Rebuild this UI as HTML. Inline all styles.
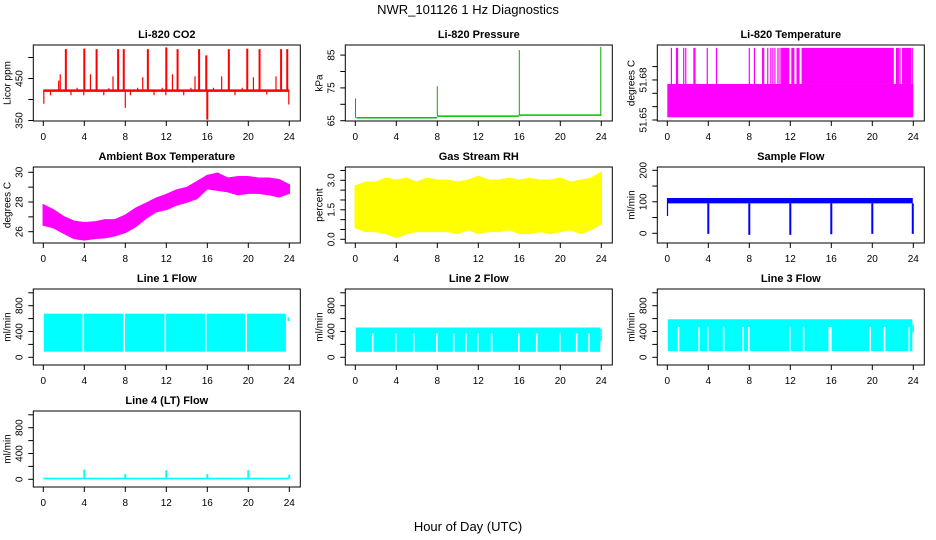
<!DOCTYPE html>
<html><head><meta charset="utf-8"><style>
html,body{margin:0;padding:0;background:#fff;}
svg{display:block;font-family:"Liberation Sans",sans-serif;}
</style></head><body>
<svg id="chart" width="936" height="540" viewBox="0 0 936 540">
<text x="468" y="14" font-size="13" text-anchor="middle">NWR_101126  1 Hz Diagnostics</text>
<text x="468" y="531" font-size="13" text-anchor="middle">Hour of Day (UTC)</text>
</svg>
<script>
// ---- data ----
const xTicks=[0,4,8,12,16,20,24];
const co2Base=421;
const co2SpikeHours=[0.05,0.7,1.5,1.65,2.2,2.7,3.3,3.95,4.0,4.6,5.2,5.9,6.4,6.8,7.3,7.85,8.0,8.5,9.2,9.7,10.2,10.8,11.6,11.95,12.0,12.6,13.1,13.7,14.4,14.8,15.2,15.9,16.0,16.6,17.4,18.1,18.7,19.4,19.9,20.5,21.1,21.8,22.7,23.2,23.8,23.95];
const co2SpikeValues=[390,410,445,460,520,410,428,410,521,460,520,410,427,455,520,520,380,410,428,453,520,410,428,410,524,460,520,410,428,455,520,505,352,428,455,520,410,428,521,453,520,412,455,520,520,388];
const presSegStart=[0.1,8,16];
const presSegEnd=[8,16,24];
const presSegLevel=[65.9,66.4,66.7];
const presSpikeHours=[0.02,8,16,23.95];
const presSpikeValues=[71.8,75.5,86.5,87.5];
const tempLow=51.652, tempMid=51.677, tempHigh=51.704;
const tempSpikeHours=[0.4,0.9,1.0,1.6,1.8,2.6,2.7,3.9,4.8,8.0,8.5,9.3,9.4,9.8,10.1,10.3,10.5,10.8,11.0,22.7,23.9];
const tempBlockStart=[11.1,12.1,12.6,13.1,22.3,22.9];
const tempBlockEnd=[11.9,12.4,12.9,22.1,22.6,23.8];
const ambHours=[0,1,2,3,4,5,6,7,8,9,10,11,12,13,14,15,16,17,18,19,20,21,22,23,24];
const ambMax=[27.8,27.46,27.0,26.7,26.6,26.65,26.8,26.8,27.1,27.57,27.9,28.25,28.5,28.8,28.97,29.37,29.78,29.93,29.6,29.7,29.7,29.6,29.6,29.5,29.15];
const ambMin=[26.45,26.27,25.9,25.55,25.45,25.55,25.6,25.73,25.96,26.34,26.9,27.35,27.5,27.8,28.0,28.25,28.9,28.8,28.7,28.5,28.6,28.6,28.5,28.35,28.6];
const rhMax=[2.7,2.9,2.9,3.1,3.0,3.1,2.9,3.1,3.0,3.0,2.9,3.0,3.2,3.0,3.0,3.1,3.0,3.1,3.0,3.0,3.1,2.9,3.0,3.1,3.4];
const rhMin=[0.6,0.4,0.4,0.3,0.1,0.3,0.4,0.4,0.4,0.4,0.3,0.5,0.3,0.4,0.4,0.5,0.3,0.3,0.4,0.3,0.4,0.5,0.3,0.5,0.8];
const sampBandMin=95, sampBandMax=112;
const sampDropHours=[4,8,12,16,20,23.95];
const sampDropValues=[-2,-5,-5,-3,-2,-2];
const l1Top=677, l1Bottom=87;
const l1GapHours=[3.9,7.9,11.9,15.85,19.8,23.75];
const l2Top=462, l2Bottom=85, l2GapTop=370;
const l2GapHours=[1.7,3.95,5.7,7.95,9.6,10.8,11.95,13.3,15.95,17.7,19.95,21.6,22.8];
const l3Top=590, l3Bottom=95, l3GapTop=470;
const l3GapHours=[1.1,3.1,3.95,5.5,7.4,7.95,11.95,13.3,15.8,15.95,19.8,21.2,23.6];
const l4Base=12;
const l4SpikeHours=[4,8,12,16,20,24];
const l4SpikeValues=[150,80,140,80,140,70];

// ---- layout ----
const NS="http://www.w3.org/2000/svg";
const svg=document.getElementById('chart');
const X0=[43.3,355.3,667.3], XW=246;
const ROWOFF=[0,122,244,366];
function mk(tag,attrs,parent){const e=document.createElementNS(NS,tag);for(const k in attrs)e.setAttribute(k,attrs[k]);(parent||svg).appendChild(e);return e;}

const panels=[
 {key:'co2',title:'Li-820 CO2',col:0,row:0,v1:350,y1:120.5,v2:500,y2:57.5,ticks:[350,400,450,500],labels:['350','450'],labelVals:[350,450],ylab:'Licor ppm'},
 {key:'pres',title:'Li-820 Pressure',col:1,row:0,v1:65,y1:120.7,v2:85,y2:55.1,ticks:[65,70,75,80,85],labels:['65','75','85'],labelVals:[65,75,85],ylab:'kPa'},
 {key:'temp',title:'Li-820 Temperature',col:2,row:0,v1:51.65,y1:120,v2:51.69,y2:66.6,ticks:[51.65,51.66,51.67,51.68,51.69],labels:['51.65','51.68'],labelVals:[51.65,51.68],ylab:'degrees C'},
 {key:'amb',title:'Ambient Box Temperature',col:0,row:1,v1:26,y1:109.7,v2:30,y2:50.3,ticks:[26,27,28,29,30],labels:['26','28','30'],labelVals:[26,28,30],ylab:'degrees C'},
 {key:'rh',title:'Gas Stream RH',col:1,row:1,v1:0,y1:117.3,v2:3,y2:58.3,ticks:[0,0.5,1,1.5,2,2.5,3,3.5],labels:['0.0','1.5','3.0'],labelVals:[0,1.5,3],ylab:'percent'},
 {key:'samp',title:'Sample Flow',col:2,row:1,v1:0,y1:111.3,v2:200,y2:48.3,ticks:[0,50,100,150,200],labels:['0','100','200'],labelVals:[0,100,200],ylab:'ml/min'},
 {key:'l1',title:'Line 1 Flow',col:0,row:2,v1:0,y1:113.3,v2:800,y2:61.7,ticks:[0,200,400,600,800,1000],labels:['0','400','800'],labelVals:[0,400,800],ylab:'ml/min'},
 {key:'l2',title:'Line 2 Flow',col:1,row:2,v1:0,y1:113.3,v2:800,y2:61.7,ticks:[0,200,400,600,800,1000],labels:['0','400','800'],labelVals:[0,400,800],ylab:'ml/min'},
 {key:'l3',title:'Line 3 Flow',col:2,row:2,v1:0,y1:113.3,v2:800,y2:61.7,ticks:[0,200,400,600,800,1000],labels:['0','400','800'],labelVals:[0,400,800],ylab:'ml/min'},
 {key:'l4',title:'Line 4 (LT) Flow',col:0,row:3,v1:0,y1:113.3,v2:800,y2:61.7,ticks:[0,200,400,600,800,1000],labels:['0','400','800'],labelVals:[0,400,800],ylab:'ml/min'}
];

panels.forEach(p=>{
 const off=ROWOFF[p.row];
 const xs=h=>X0[p.col]+h*XW/24;
 const ys=v=>p.y1+off+(v-p.v1)*(p.y2-p.y1)/(p.v2-p.v1);
 const L=X0[p.col]-10, R=X0[p.col]+XW+11, T=45+off, B=121+off;
 const g=mk('g',{});
 
 
 const clipId='clip-'+p.key;
 const cp=mk('clipPath',{id:clipId},g); mk('rect',{x:L,y:T,width:R-L,height:B-T},cp);
 const plot=mk('g',{'clip-path':'url(#'+clipId+')'},g);
 
 
 drawSeries(p.key,plot,xs,ys);
 const box=mk('rect',{x:L,y:T,width:R-L,height:B-T,fill:'none',stroke:'#000','stroke-width':1},g);
 
 
 const t=mk('text',{x:(L+R)/2,y:T-7,'font-size':11,'font-weight':'bold','text-anchor':'middle'},g);
 t.textContent=p.title;
 
 
 // x axis
 xTicks.forEach(h=>{
  mk('line',{x1:xs(h),x2:xs(h),y1:B,y2:B+5,stroke:'#000'},g);
  const tl=mk('text',{x:xs(h),y:B+19,'font-size':10,'text-anchor':'middle'},g);
  tl.textContent=String(h);
  
  
 });
 // y axis
 p.ticks.forEach(v=>{mk('line',{x1:L-5,x2:L,y1:ys(v),y2:ys(v),stroke:'#000'},g);});
 p.labels.forEach((s,i)=>{
  const y=ys(p.labelVals[i]), x=L-11;
  const yl=mk('text',{x:x,y:y,'font-size':10,'text-anchor':'middle',transform:'rotate(-90 '+x+' '+y+')'},g);
  yl.textContent=s;
  
  
 });
 const yx=L-23, yy=(T+B)/2;
 const yt=mk('text',{x:yx,y:yy,'font-size':10,'text-anchor':'middle',transform:'rotate(-90 '+yx+' '+yy+')'},g);
 yt.textContent=p.ylab;
 
 
});

function band(plot,xs,ys,h0,h1,lo,hi,color){
 return mk('rect',{x:xs(h0),y:ys(hi),width:xs(h1)-xs(h0),height:ys(lo)-ys(hi),fill:color},plot);
}
function vline(plot,xs,ys,h,a,b,color,w){
 return mk('line',{x1:xs(h),x2:xs(h),y1:ys(a),y2:ys(b),stroke:color,'stroke-width':w||1},plot);
}
function drawSeries(key,plot,xs,ys){
 if(key==='co2'){
  mk('line',{x1:xs(0),x2:xs(24),y1:ys(co2Base),y2:ys(co2Base),stroke:'#f00','stroke-width':2.5},plot);
  co2SpikeHours.forEach((h,i)=>{vline(plot,xs,ys,h,co2Base,co2SpikeValues[i],'#f00',Math.abs(co2SpikeValues[i]-co2Base)>60?2:1.2);});
 } else if(key==='pres'){
  presSegStart.forEach((s,i)=>{mk('line',{x1:xs(s),x2:xs(presSegEnd[i]),y1:ys(presSegLevel[i]),y2:ys(presSegLevel[i]),stroke:'#00c000','stroke-width':1.5},plot);});
  presSpikeHours.forEach((h,i)=>{vline(plot,xs,ys,h,presSegLevel[Math.min(2,Math.floor(h/8))],presSpikeValues[i],'#00b000',1);});
 } else if(key==='temp'){
  band(plot,xs,ys,0,24,tempLow,tempMid,'#f0f');
  tempSpikeHours.forEach(h=>vline(plot,xs,ys,h,tempMid,tempHigh,'#f0f',1.2));
  tempBlockStart.forEach((s,i)=>band(plot,xs,ys,s,tempBlockEnd[i],tempMid,tempHigh,'#f0f'));
 } else if(key==='amb'){
  let d='M'+ambHours.map((h,i)=>xs(h)+','+ys(ambMax[i])).join(' L');
  d+=' L'+ambHours.slice().reverse().map((h,j)=>{const i=ambHours.length-1-j;return xs(h)+','+ys(ambMin[i]);}).join(' L')+'Z';
  mk('path',{d:d,fill:'#f0f',stroke:'#f0f','stroke-width':1.5},plot);
 } else if(key==='rh'){
  const hs=rhMax.map((v,i)=>i);
  let d='M'+hs.map(h=>xs(h)+','+ys(rhMax[h])).join(' L');
  d+=' L'+hs.slice().reverse().map(h=>xs(h)+','+ys(rhMin[h])).join(' L')+'Z';
  mk('path',{d:d,fill:'#ff0',stroke:'#ff0','stroke-width':1.5},plot);
 } else if(key==='samp'){
  band(plot,xs,ys,0,23.95,sampBandMin,sampBandMax,'#00f');
  vline(plot,xs,ys,0.02,55,sampBandMax,'#00f',1.2);
  sampDropHours.forEach((h,i)=>vline(plot,xs,ys,h,sampBandMin,sampDropValues[i],'#00f',2));
 } else if(key==='l1'){
  band(plot,xs,ys,0.05,23.8,l1Bottom,l1Top,'#0ff');
  band(plot,xs,ys,23.8,24,560,620,'#0ff');
  l1GapHours.forEach(h=>vline(plot,xs,ys,h,l1Bottom-5,l1Top+5,'#fff',1.6));
 } else if(key==='l2'){
  band(plot,xs,ys,0.05,23.9,l2Bottom,l2Top,'#0ff');
  band(plot,xs,ys,23.9,24.05,250,440,'#0ff');
  l2GapHours.forEach(h=>vline(plot,xs,ys,h,l2Bottom-5,l2GapTop,'#fff',1.6));
 } else if(key==='l3'){
  band(plot,xs,ys,0.05,23.9,l3Bottom,l3Top,'#0ff');
  band(plot,xs,ys,23.9,24.05,380,510,'#0ff');
  l3GapHours.forEach(h=>vline(plot,xs,ys,h,l3Bottom-5,l3GapTop,'#fff',1.6));
 } else if(key==='l4'){
  band(plot,xs,ys,0,24,0,25,'#0ff');
  l4SpikeHours.forEach((h,i)=>vline(plot,xs,ys,h,l4Base,l4SpikeValues[i],'#0ff',2));
 }
}
</script>
</body></html>
